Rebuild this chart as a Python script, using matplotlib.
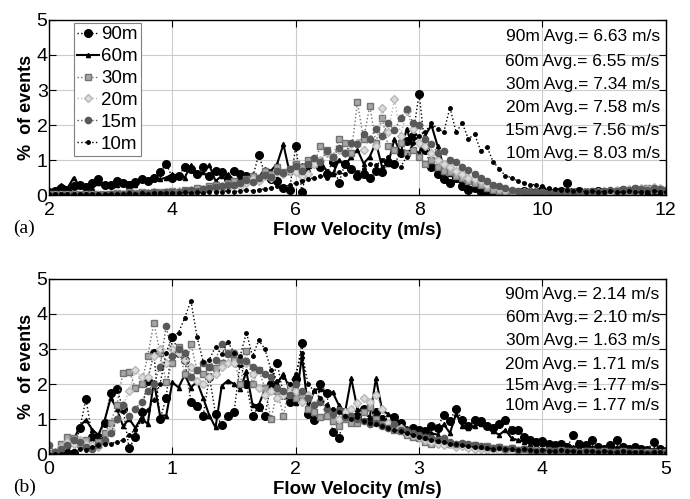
#!/usr/bin/env python3
"""Flow velocity distribution at six heights, two panels"""

import matplotlib.pyplot as plt
import numpy as np

plt.rcParams['font.family'] = ['Liberation Sans', 'DejaVu Sans']

heights = ['90m', '60m', '30m', '20m', '15m', '10m']

# panel (a): histogram bin centres 2..12 m/s, step 0.1
vel_a = np.linspace(2, 12, 101)
avg_a = ['6.63', '6.55', '7.34', '7.58', '7.56', '8.03']

a_90 = [0.10, 0.12, 0.20, 0.15, 0.25, 0.30, 0.22, 0.35, 0.45, 0.30,
        0.28, 0.40, 0.35, 0.30, 0.38, 0.45, 0.40, 0.50, 0.65, 0.90,
        0.50, 0.55, 0.80, 0.75, 0.60, 0.80, 0.55, 0.70, 0.65, 0.45,
        0.70, 0.60, 0.55, 0.50, 1.15, 0.60, 0.45, 0.40, 0.20, 0.15,
        1.40, 0.10, 0.85, 1.00, 0.80, 0.60, 0.95, 0.35, 0.90, 0.75,
        0.55, 0.60, 0.50, 0.70, 0.65, 0.95, 0.90, 1.20, 1.55, 1.70,
        2.90, 1.30, 0.80, 0.60, 0.45, 0.35, 0.50, 0.25, 0.15, 0.20,
        0.10, 0.12, 0.08, 0.10, 0.12, 0.08, 0.10, 0.12, 0.10, 0.08,
        0.15, 0.10, 0.08, 0.12, 0.35, 0.10, 0.12, 0.08, 0.10, 0.12,
        0.10, 0.08, 0.12, 0.15, 0.10, 0.18, 0.12, 0.10, 0.15, 0.12,
        0.10]
a_60 = [0.10, 0.15, 0.30, 0.20, 0.50, 0.25, 0.30, 0.20, 0.35, 0.30,
        0.35, 0.30, 0.40, 0.35, 0.30, 0.45, 0.40, 0.55, 0.45, 0.50,
        0.60, 0.55, 0.50, 0.85, 0.60, 0.65, 0.85, 0.40, 0.55, 0.60,
        0.40, 0.50, 0.55, 0.60, 0.50, 0.75, 0.70, 0.90, 1.45, 0.65,
        0.70, 0.85, 0.75, 0.90, 0.95, 0.70, 0.60, 1.00, 0.85, 1.10,
        1.30, 0.90, 1.10, 1.50, 0.80, 0.90, 1.60, 1.20, 1.90, 1.30,
        1.20, 1.70, 2.00, 1.40, 0.80, 0.60, 0.45, 0.30, 0.25, 0.20,
        0.15, 0.12, 0.10, 0.08, 0.10, 0.12, 0.08, 0.10, 0.08, 0.10,
        0.12, 0.10, 0.08, 0.10, 0.15, 0.08, 0.10, 0.12, 0.08, 0.10,
        0.10, 0.12, 0.08, 0.10, 0.12, 0.15, 0.10, 0.12, 0.08, 0.10,
        0.10]
a_30 = [0.02, 0.02, 0.02, 0.02, 0.02, 0.02, 0.02, 0.02, 0.02, 0.02,
        0.03, 0.05, 0.04, 0.08, 0.05, 0.10, 0.06, 0.08, 0.10, 0.08,
        0.12, 0.10, 0.15, 0.12, 0.20, 0.18, 0.25, 0.30, 0.22, 0.35,
        0.40, 0.35, 0.45, 0.55, 0.50, 0.70, 0.60, 0.80, 0.65, 0.75,
        0.90, 0.80, 1.00, 0.90, 1.40, 1.30, 1.10, 1.60, 1.50, 1.20,
        2.65, 1.60, 2.55, 1.50, 2.20, 1.40, 1.30, 1.50, 1.20, 1.30,
        1.10, 0.90, 1.00, 0.80, 0.70, 0.65, 0.55, 0.50, 0.40, 0.35,
        0.30, 0.20, 0.15, 0.12, 0.10, 0.08, 0.06, 0.08, 0.05, 0.06,
        0.05, 0.06, 0.05, 0.04, 0.06, 0.05, 0.06, 0.08, 0.06, 0.08,
        0.08, 0.10, 0.08, 0.12, 0.10, 0.15, 0.12, 0.20, 0.15, 0.18,
        0.12]
a_20 = [0.01, 0.01, 0.01, 0.01, 0.01, 0.01, 0.01, 0.01, 0.01, 0.01,
        0.02, 0.03, 0.02, 0.05, 0.03, 0.06, 0.05, 0.08, 0.06, 0.10,
        0.08, 0.12, 0.10, 0.15, 0.12, 0.18, 0.20, 0.15, 0.25, 0.20,
        0.30, 0.25, 0.35, 0.45, 0.40, 0.55, 0.50, 0.65, 0.60, 0.70,
        0.65, 0.55, 0.60, 0.90, 1.00, 1.20, 1.10, 1.30, 1.20, 1.45,
        1.50, 1.30, 1.60, 1.40, 2.50, 1.80, 2.75, 1.70, 2.40, 1.90,
        1.50, 1.40, 1.20, 1.00, 0.90, 0.80, 0.70, 0.60, 0.50, 0.45,
        0.40, 0.30, 0.25, 0.20, 0.15, 0.12, 0.10, 0.08, 0.10, 0.08,
        0.08, 0.06, 0.08, 0.05, 0.06, 0.08, 0.06, 0.10, 0.08, 0.10,
        0.12, 0.10, 0.15, 0.12, 0.18, 0.15, 0.20, 0.18, 0.22, 0.20,
        0.15]
a_15 = [0.01, 0.01, 0.01, 0.01, 0.01, 0.01, 0.01, 0.01, 0.01, 0.01,
        0.02, 0.03, 0.04, 0.05, 0.04, 0.06, 0.05, 0.08, 0.07, 0.10,
        0.08, 0.10, 0.12, 0.15, 0.12, 0.18, 0.20, 0.22, 0.25, 0.28,
        0.30, 0.35, 0.42, 0.38, 0.50, 0.58, 0.52, 0.68, 0.62, 0.75,
        0.82, 0.70, 0.90, 1.05, 0.95, 1.25, 1.10, 1.35, 1.20, 1.50,
        1.45, 1.75, 1.60, 1.90, 1.70, 2.05, 1.85, 2.20, 2.45, 2.05,
        2.00, 1.60, 1.45, 1.20, 1.25, 1.00, 0.95, 0.80, 0.72, 0.60,
        0.50, 0.40, 0.30, 0.25, 0.20, 0.15, 0.12, 0.10, 0.08, 0.10,
        0.08, 0.10, 0.08, 0.10, 0.12, 0.10, 0.08, 0.10, 0.12, 0.10,
        0.12, 0.15, 0.12, 0.18, 0.15, 0.20, 0.18, 0.15, 0.20, 0.18,
        0.15]
a_10 = [0.02, 0.03, 0.02, 0.03, 0.02, 0.03, 0.02, 0.03, 0.02, 0.03,
        0.03, 0.04, 0.03, 0.05, 0.04, 0.05, 0.04, 0.06, 0.05, 0.06,
        0.05, 0.06, 0.08, 0.06, 0.08, 0.07, 0.10, 0.08, 0.10, 0.12,
        0.10, 0.12, 0.15, 0.12, 0.15, 0.18, 0.20, 0.25, 0.22, 0.30,
        0.35, 0.40, 0.45, 0.50, 0.55, 0.50, 0.60, 0.65, 0.60, 0.70,
        0.65, 0.75, 0.90, 0.85, 1.00, 1.10, 0.85, 0.80, 1.10, 1.50,
        1.70, 1.80, 2.05, 1.90, 1.80, 2.50, 1.80, 2.05, 1.60, 1.75,
        1.25, 1.38, 0.95, 0.75, 0.55, 0.50, 0.40, 0.35, 0.30, 0.30,
        0.25, 0.20, 0.18, 0.15, 0.15, 0.12, 0.15, 0.10, 0.12, 0.10,
        0.10, 0.12, 0.10, 0.08, 0.12, 0.10, 0.08, 0.10, 0.12, 0.10,
        0.08]

# panel (b): histogram bin centres 0..5 m/s, step 0.05
vel_b = np.linspace(0, 5, 101)
avg_b = ['2.14', '2.10', '1.63', '1.71', '1.77', '1.77']

b_90 = [0.00, 0.02, 0.05, 0.02, 0.03, 0.75, 1.57, 0.50, 0.50, 0.90,
        1.75, 1.85, 1.30, 0.16, 0.50, 1.20, 2.10, 2.88, 1.00, 1.60,
        3.35, 2.90, 2.70, 1.50, 1.38, 1.10, 2.21, 1.15, 0.83, 1.10,
        1.20, 2.61, 2.00, 1.10, 1.35, 1.10, 2.00, 2.59, 1.70, 1.50,
        2.13, 3.18, 1.14, 0.96, 2.00, 1.75, 0.63, 0.45, 1.20, 1.00,
        1.10, 1.30, 0.95, 1.20, 1.00, 0.85, 1.05, 0.90, 0.60, 0.75,
        0.70, 0.65, 0.80, 0.75, 1.13, 0.95, 1.30, 0.97, 0.80, 0.97,
        0.95, 0.80, 0.75, 0.85, 0.97, 0.70, 0.69, 0.50, 0.40, 0.35,
        0.36, 0.30, 0.25, 0.30, 0.20, 0.54, 0.30, 0.25, 0.40, 0.20,
        0.15, 0.25, 0.40, 0.20, 0.15, 0.20, 0.15, 0.12, 0.35, 0.15,
        0.10]
b_60 = [0.00, 0.00, 0.00, 0.05, 0.40, 0.80, 0.98, 0.70, 0.55, 0.95,
        1.60, 1.30, 0.80, 1.00, 0.75, 1.05, 0.85, 2.07, 1.10, 1.10,
        2.05, 1.90, 2.26, 1.90, 2.07, 1.60, 1.10, 0.76, 1.95, 2.10,
        2.00, 1.85, 2.36, 1.40, 1.40, 1.85, 2.10, 2.00, 2.30, 1.85,
        1.45, 2.80, 1.30, 1.83, 1.87, 1.75, 1.76, 1.39, 1.20, 2.16,
        1.29, 1.20, 1.05, 2.16, 1.26, 1.14, 1.02, 0.85, 0.75, 0.70,
        0.65, 0.70, 0.60, 0.55, 0.85, 0.60, 1.15, 0.80, 0.75, 0.80,
        0.85, 0.87, 0.65, 0.55, 0.69, 0.45, 0.40, 0.35, 0.30, 0.30,
        0.30, 0.25, 0.28, 0.22, 0.25, 0.20, 0.22, 0.18, 0.20, 0.15,
        0.18, 0.15, 0.20, 0.12, 0.15, 0.20, 0.12, 0.10, 0.15, 0.12,
        0.10]
b_30 = [0.00, 0.05, 0.30, 0.50, 0.45, 0.30, 0.40, 0.20, 0.35, 0.60,
        0.90, 1.40, 2.32, 2.35, 1.90, 2.00, 2.80, 3.75, 2.90, 2.05,
        2.60, 3.05, 2.30, 3.15, 2.40, 2.30, 2.50, 2.45, 2.60, 2.90,
        2.70, 2.00, 2.95, 2.00, 2.40, 1.90, 1.00, 1.80, 1.10, 1.95,
        1.60, 1.70, 1.30, 1.20, 1.05, 1.10, 0.95, 0.80, 1.00, 0.90,
        0.90, 1.20, 1.35, 1.00, 0.85, 0.80, 0.70, 0.65, 0.55, 0.50,
        0.45, 0.35, 0.30, 0.40, 0.35, 0.30, 0.25, 0.30, 0.22, 0.25,
        0.20, 0.22, 0.18, 0.20, 0.15, 0.18, 0.12, 0.15, 0.10, 0.12,
        0.10, 0.08, 0.10, 0.12, 0.08, 0.10, 0.06, 0.08, 0.10, 0.06,
        0.08, 0.05, 0.06, 0.08, 0.05, 0.06, 0.04, 0.05, 0.06, 0.04,
        0.05]
b_20 = [0.00, 0.05, 0.20, 0.35, 0.30, 0.40, 0.30, 0.25, 0.20, 0.35,
        0.70, 1.00, 1.40, 1.80, 2.40, 2.20, 2.20, 2.80, 3.00, 2.60,
        3.00, 2.90, 2.70, 2.50, 2.10, 2.00, 2.20, 2.30, 2.50, 2.60,
        2.60, 2.70, 2.60, 2.30, 1.90, 1.70, 1.80, 1.60, 1.70, 1.80,
        1.80, 1.50, 1.70, 1.40, 1.55, 1.30, 1.20, 1.00, 1.20, 1.30,
        1.45, 1.60, 1.50, 1.70, 1.30, 0.90, 0.80, 0.75, 0.60, 0.55,
        0.50, 0.40, 0.35, 0.30, 0.25, 0.28, 0.20, 0.22, 0.18, 0.15,
        0.15, 0.12, 0.15, 0.10, 0.12, 0.08, 0.10, 0.08, 0.06, 0.08,
        0.06, 0.05, 0.06, 0.04, 0.05, 0.06, 0.04, 0.05, 0.04, 0.03,
        0.04, 0.03, 0.04, 0.03, 0.02, 0.03, 0.02, 0.03, 0.02, 0.02,
        0.02]
b_15 = [0.25, 0.05, 0.15, 0.25, 0.40, 0.35, 0.20, 0.15, 0.25, 0.40,
        0.60, 1.00, 1.40, 1.10, 1.30, 1.50, 1.80, 2.00, 2.50, 3.65,
        2.80, 3.00, 2.90, 2.20, 2.40, 2.60, 2.50, 2.70, 3.15, 2.85,
        2.90, 2.70, 2.65, 2.50, 2.40, 2.30, 2.20, 1.90, 1.80, 1.70,
        2.00, 1.80, 1.60, 1.40, 1.50, 1.30, 1.15, 1.25, 1.05, 1.10,
        1.00, 0.95, 0.85, 0.90, 0.80, 0.75, 0.85, 0.70, 0.65, 0.60,
        0.55, 0.50, 0.45, 0.40, 0.45, 0.35, 0.30, 0.32, 0.28, 0.25,
        0.22, 0.20, 0.18, 0.20, 0.15, 0.16, 0.12, 0.14, 0.12, 0.10,
        0.10, 0.12, 0.08, 0.10, 0.08, 0.09, 0.07, 0.08, 0.06, 0.07,
        0.06, 0.05, 0.07, 0.05, 0.06, 0.04, 0.05, 0.04, 0.05, 0.04,
        0.04]
b_10 = [0.00, 0.00, 0.00, 0.05, 0.10, 0.15, 0.12, 0.20, 0.25, 0.30,
        0.30, 0.35, 0.40, 0.55, 0.70, 0.95, 1.25, 1.55, 2.00, 2.90,
        3.35, 3.47, 3.88, 4.38, 3.35, 2.64, 2.70, 3.07, 2.85, 3.20,
        2.90, 2.80, 3.47, 2.79, 3.25, 3.00, 2.40, 2.10, 2.20, 2.00,
        2.30, 2.90, 2.00, 1.80, 1.60, 1.40, 1.30, 1.20, 1.10, 1.00,
        1.05, 0.95, 0.90, 0.85, 0.80, 0.75, 0.70, 0.65, 0.60, 0.55,
        0.50, 0.45, 0.40, 0.38, 0.35, 0.30, 0.28, 0.25, 0.22, 0.20,
        0.20, 0.18, 0.15, 0.18, 0.14, 0.15, 0.12, 0.14, 0.12, 0.10,
        0.12, 0.10, 0.08, 0.12, 0.10, 0.08, 0.06, 0.10, 0.08, 0.06,
        0.08, 0.06, 0.05, 0.08, 0.06, 0.05, 0.06, 0.04, 0.05, 0.06,
        0.04]

# line styles per height: (line colour, marker, size, face colour, linestyle, width)
styles = [
    ('black', 'o', 5.5, 'black', ':', 1.0),
    ('black', '^', 3.0, 'black', '-', 1.5),
    ('0.45', 's', 4.5, '0.65', ':', 1.0),
    ('0.72', 'D', 4.0, '0.86', ':', 1.0),
    ('0.35', 'o', 4.5, '0.35', ':', 1.0),
    ('black', 'o', 2.5, 'black', ':', 1.0),
]


def draw_panel(ax, x, series, avgs, xlim, xticks, tag, text_y, legend=False):
    for name, y, (c, m, ms, fc, ls, lw) in zip(heights, series, styles):
        ax.plot(x, y, color=c, marker=m, markersize=ms, markerfacecolor=fc,
                markeredgecolor=c, linestyle=ls, linewidth=lw, label=name)
    ax.set_xlim(*xlim)
    ax.set_ylim(0, 5)
    ax.set_xticks(xticks)
    ax.set_yticks([0, 1, 2, 3, 4, 5])
    ax.grid(True, color='0.8', linewidth=0.8)
    ax.set_axisbelow(True)
    ax.tick_params(direction='in', top=True, right=True, length=5,
                   labelsize=14)
    ax.tick_params(axis='x', pad=5)
    ax.tick_params(axis='y', pad=1)
    for sp in ax.spines.values():
        sp.set_linewidth(1.0)
    ax.set_xlabel('Flow Velocity (m/s)', fontsize=13.5, fontweight='bold',
                  labelpad=2)
    ax.set_ylabel('%  of events', fontsize=13, fontweight='bold', labelpad=1)
    for name, avg, ty in zip(heights, avgs, text_y):
        ax.text(0.99, ty, f'{name} Avg.= {avg} m/s', transform=ax.transAxes,
                ha='right', va='center', fontsize=12.5)
    ax.text(-0.058, -0.19, tag, transform=ax.transAxes, fontsize=14,
            family=['Liberation Serif', 'DejaVu Serif'], ha='left', va='center')
    if legend:
        leg = ax.legend(loc='upper left', bbox_to_anchor=(0.04, 0.985),
                        borderaxespad=0, fontsize=13.5, handlelength=1.15,
                        handletextpad=0.1, labelspacing=0.25,
                        borderpad=0.2, fancybox=False, framealpha=1)
        leg.get_frame().set_edgecolor('0.5')
        leg.get_frame().set_linewidth(0.8)


fig = plt.figure(figsize=(6.9, 4.99), dpi=100)
ax_a = fig.add_axes([0.071, 0.609, 0.894, 0.351])
ax_b = fig.add_axes([0.071, 0.090, 0.894, 0.351])

draw_panel(ax_a, vel_a, [a_90, a_60, a_30, a_20, a_15, a_10], avg_a,
           (2, 12), [2, 4, 6, 8, 10, 12], '(a)',
           [0.903, 0.76, 0.629, 0.503, 0.371, 0.24], legend=True)
draw_panel(ax_b, vel_b, [b_90, b_60, b_30, b_20, b_15, b_10], avg_b,
           (0, 5), [0, 1, 2, 3, 4, 5], '(b)',
           [0.909, 0.777, 0.646, 0.514, 0.389, 0.28])

fig.savefig('out.png', dpi=100)
plt.close(fig)
